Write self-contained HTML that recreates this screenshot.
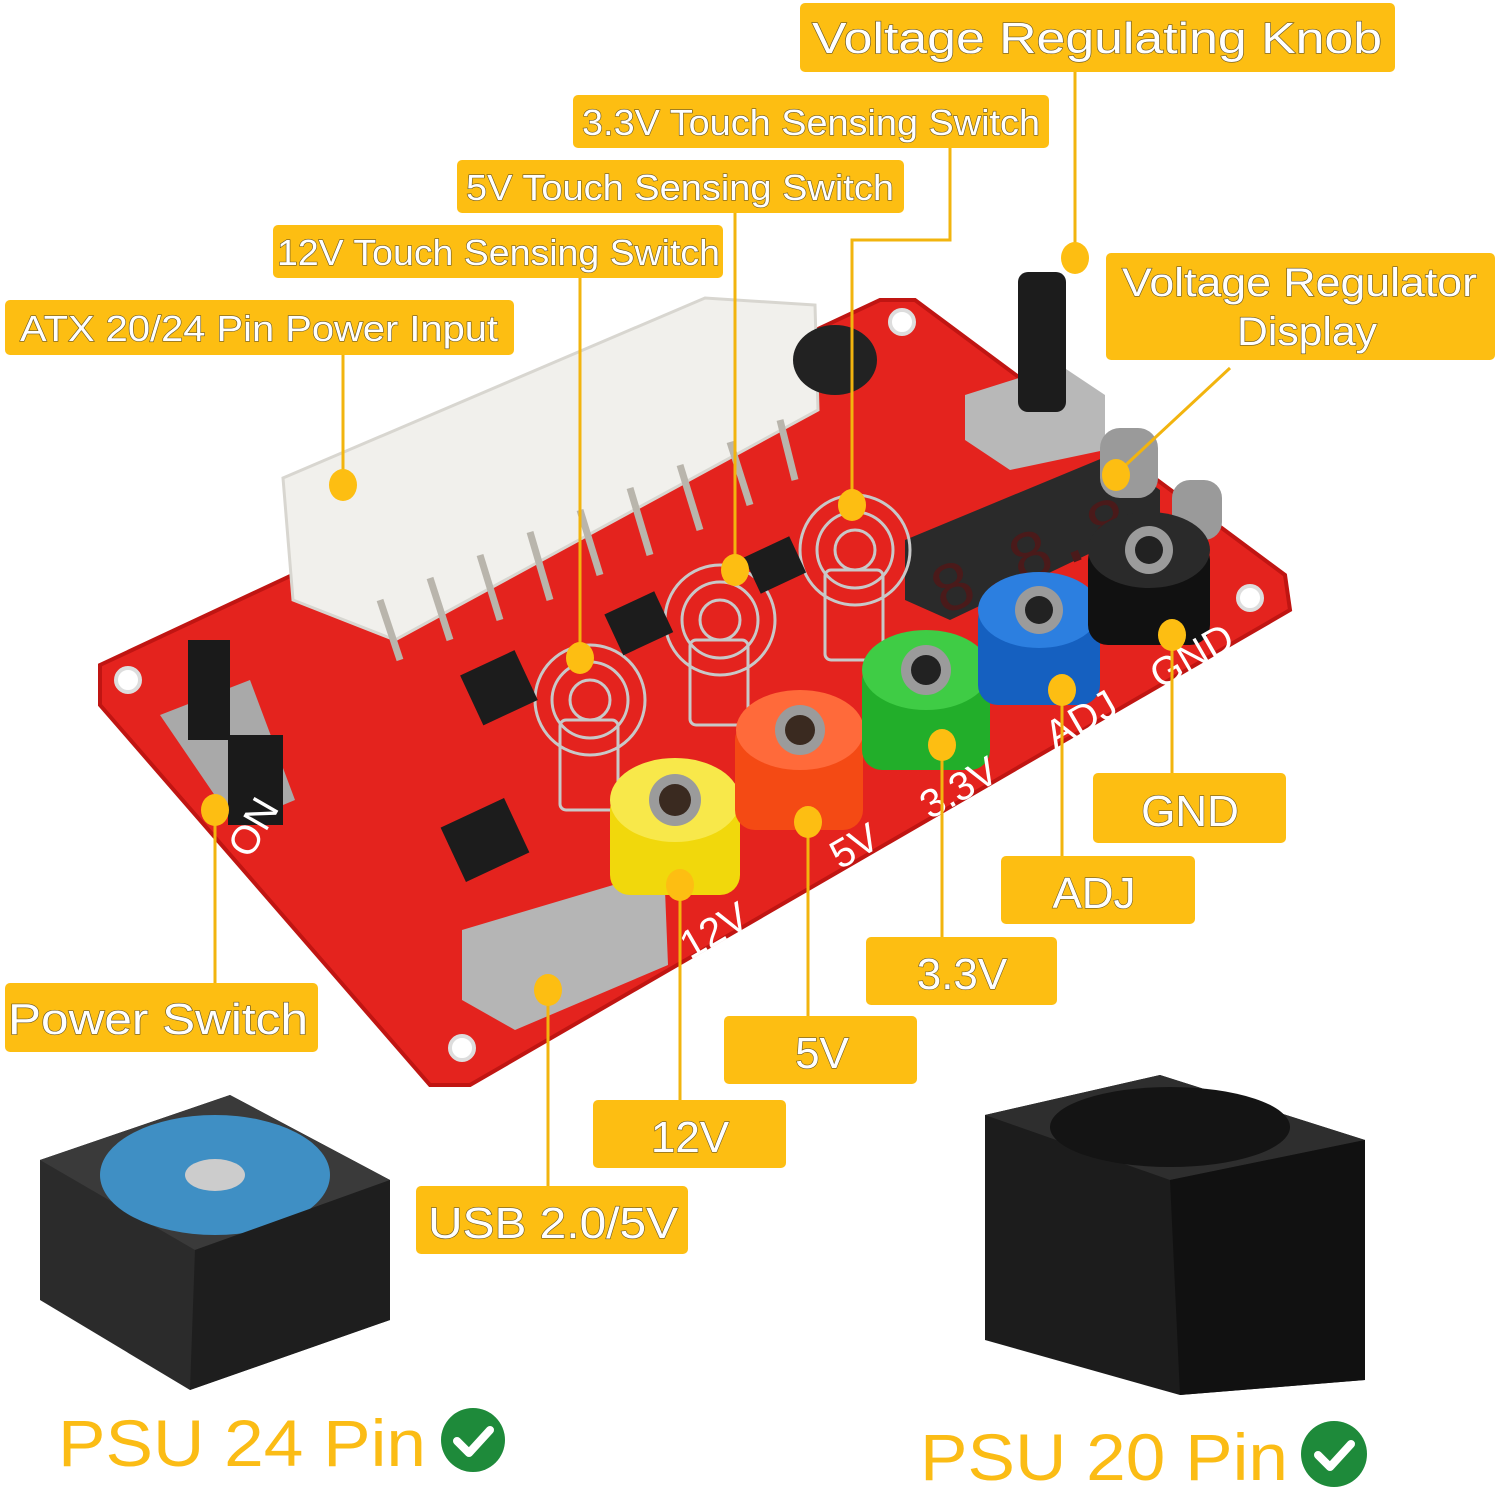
<!DOCTYPE html>
<html><head><meta charset="utf-8"><style>
html,body{margin:0;padding:0;background:#fff;}
svg{display:block}
.lb{fill:#FDBE12}
.t{font-family:"Liberation Sans",sans-serif;fill:#fff;stroke:#6b5a2a;stroke-width:1.2px;paint-order:stroke;}
.ln{stroke:#F2B40E;stroke-width:3;fill:none}
.dot{fill:#FDBE12}
</style></head><body>
<svg width="1500" height="1496" viewBox="0 0 1500 1496" xmlns="http://www.w3.org/2000/svg">
<!-- PCB -->
<polygon points="100,665 880,300 915,300 1285,575 1290,610 470,1085 430,1085 100,705" fill="#E4231E"/>
<polygon points="100,665 880,300 915,300 1285,575 1290,610 470,1085 430,1085 100,705" fill="none" stroke="#c01512" stroke-width="4"/>
<!-- ATX connector -->
<polygon points="283,478 705,298 815,305 818,410 395,640 293,600" fill="#F1F0EC"/>
<polygon points="283,478 705,298 815,305 818,410 395,640 293,600" fill="none" stroke="#d8d6d0" stroke-width="3"/>
<g stroke="#b9b5ac" stroke-width="7">
<line x1="380" y1="600" x2="400" y2="660"/><line x1="430" y1="578" x2="450" y2="640"/><line x1="480" y1="555" x2="500" y2="620"/><line x1="530" y1="532" x2="550" y2="600"/><line x1="580" y1="510" x2="600" y2="575"/><line x1="630" y1="488" x2="650" y2="555"/><line x1="680" y1="465" x2="700" y2="530"/><line x1="730" y1="442" x2="750" y2="505"/><line x1="780" y1="420" x2="795" y2="480"/>
</g>
<!-- inductor -->
<ellipse cx="835" cy="360" rx="42" ry="35" fill="#222"/>
<!-- potentiometer & knob -->
<polygon points="965,395 1060,365 1105,395 1105,450 1010,470 965,440" fill="#b8b8b8"/>
<rect x="1018" y="272" width="48" height="140" rx="10" fill="#1c1c1c"/>
<!-- display -->
<polygon points="905,540 1110,455 1160,490 1160,520 950,620 905,600" fill="#2a2a2a"/>
<text x="925" y="590" font-family="Liberation Mono" font-size="70" fill="#4a1a1a" transform="rotate(-22 1000 560)">8.8.8</text>
<!-- capacitors -->
<rect x="1100" y="428" width="58" height="70" rx="20" fill="#9a9a9a"/>
<rect x="1172" y="480" width="50" height="60" rx="18" fill="#9a9a9a"/>
<!-- springs -->
<g fill="none" stroke="#c8c8c8" stroke-width="3">
<circle cx="590" cy="700" r="55"/><circle cx="590" cy="700" r="38"/><circle cx="590" cy="700" r="20"/>
<rect x="560" y="720" width="58" height="90" rx="6"/>
<circle cx="720" cy="620" r="55"/><circle cx="720" cy="620" r="38"/><circle cx="720" cy="620" r="20"/>
<rect x="690" y="640" width="58" height="85" rx="6"/>
<circle cx="855" cy="550" r="55"/><circle cx="855" cy="550" r="38"/><circle cx="855" cy="550" r="20"/>
<rect x="825" y="570" width="58" height="90" rx="6"/>
</g>
<!-- chips -->
<rect x="470" y="660" width="60" height="55" fill="#1c1c1c" transform="rotate(-25 500 690)"/>
<rect x="450" y="810" width="70" height="60" fill="#1c1c1c" transform="rotate(-25 485 840)"/>
<rect x="610" y="600" width="55" height="45" fill="#1c1c1c" transform="rotate(-25 640 620)"/>
<rect x="750" y="545" width="50" height="40" fill="#1c1c1c" transform="rotate(-25 775 565)"/>
<!-- power switch -->
<polygon points="160,715 250,680 295,800 235,825" fill="#a9a9a9"/>
<rect x="188" y="640" width="42" height="100" fill="#1a1a1a"/>
<rect x="228" y="735" width="55" height="90" fill="#1a1a1a"/>
<!-- USB -->
<polygon points="462,930 630,880 665,890 668,965 515,1030 462,1000" fill="#b5b5b5"/>
<!-- jacks -->
<rect x="610" y="790" width="130" height="105" rx="20" fill="#F1D80C"/><ellipse cx="675" cy="800" rx="65" ry="42" fill="#F8E84A"/><circle cx="675" cy="800" r="26" fill="#9b9b9b"/><circle cx="675" cy="800" r="16" fill="#3a2a20"/>
<rect x="735" y="720" width="128" height="110" rx="20" fill="#F44A14"/><ellipse cx="800" cy="730" rx="64" ry="40" fill="#ff6a3a"/><circle cx="800" cy="730" r="25" fill="#9b9b9b"/><circle cx="800" cy="730" r="15" fill="#3a2a20"/>
<rect x="862" y="660" width="128" height="110" rx="20" fill="#22AE2A"/><ellipse cx="926" cy="670" rx="64" ry="40" fill="#3fcc45"/><circle cx="926" cy="670" r="25" fill="#9b9b9b"/><circle cx="926" cy="670" r="15" fill="#222"/>
<rect x="978" y="600" width="122" height="105" rx="20" fill="#1560C0"/><ellipse cx="1039" cy="610" rx="61" ry="38" fill="#2c7fe0"/><circle cx="1039" cy="610" r="24" fill="#9b9b9b"/><circle cx="1039" cy="610" r="14" fill="#222"/>
<rect x="1088" y="540" width="122" height="105" rx="20" fill="#111"/><ellipse cx="1149" cy="550" rx="61" ry="38" fill="#2a2a2a"/><circle cx="1149" cy="550" r="24" fill="#9b9b9b"/><circle cx="1149" cy="550" r="14" fill="#222"/>
<!-- board labels -->
<g font-family="Liberation Sans" font-size="40" fill="#fff">
<text x="690" y="960" transform="rotate(-30 690 960)">12V</text>
<text x="840" y="870" transform="rotate(-30 840 870)">5V</text>
<text x="930" y="820" transform="rotate(-30 930 820)">3.3V</text>
<text x="1055" y="750" transform="rotate(-30 1055 750)">ADJ</text>
<text x="1160" y="690" transform="rotate(-30 1160 690)">GND</text>
<text x="250" y="860" transform="rotate(-60 250 860)">ON</text>
</g>
<!-- mounting holes -->
<g fill="#fff" stroke="#ddd" stroke-width="4"><circle cx="128" cy="680" r="12"/><circle cx="902" cy="322" r="12"/><circle cx="1250" cy="598" r="12"/><circle cx="462" cy="1048" r="12"/></g>

<!-- PSU 24 left -->
<polygon points="40,1160 230,1095 390,1180 390,1320 190,1390 40,1300" fill="#2b2b2b"/>
<polygon points="40,1160 230,1095 390,1180 195,1250" fill="#3a3a3a"/>
<ellipse cx="215" cy="1175" rx="115" ry="60" fill="#3f8fc4"/>
<ellipse cx="215" cy="1175" rx="30" ry="16" fill="#ccc"/>
<polygon points="195,1250 390,1180 390,1320 190,1390" fill="#1e1e1e"/>
<!-- PSU 20 right -->
<polygon points="985,1115 1160,1075 1365,1140 1365,1380 1180,1395 985,1340" fill="#1c1c1c"/>
<polygon points="985,1115 1160,1075 1365,1140 1170,1180" fill="#2e2e2e"/>
<ellipse cx="1170" cy="1127" rx="120" ry="40" fill="#141414"/>
<polygon points="1170,1180 1365,1140 1365,1380 1180,1395" fill="#111"/>

<!-- connector lines -->
<g class="ln">
<line x1="1075" y1="72" x2="1075" y2="260"/>
<polyline points="950,148 950,240 852,240 852,505"/>
<line x1="735" y1="212" x2="735" y2="570"/>
<line x1="580" y1="278" x2="580" y2="658"/>
<line x1="343" y1="355" x2="343" y2="485"/>
<line x1="1230" y1="368" x2="1115" y2="475"/>
<line x1="1172" y1="635" x2="1172" y2="773"/>
<line x1="1062" y1="690" x2="1062" y2="856"/>
<line x1="942" y1="745" x2="942" y2="937"/>
<line x1="808" y1="822" x2="808" y2="1016"/>
<line x1="680" y1="885" x2="680" y2="1100"/>
<line x1="548" y1="990" x2="548" y2="1186"/>
<line x1="215" y1="810" x2="215" y2="983"/>
</g>
<g class="dot">
<ellipse cx="1075" cy="258" rx="14" ry="16"/>
<ellipse cx="852" cy="505" rx="14" ry="16"/>
<ellipse cx="735" cy="570" rx="14" ry="16"/>
<ellipse cx="580" cy="658" rx="14" ry="16"/>
<ellipse cx="343" cy="485" rx="14" ry="16"/>
<ellipse cx="1116" cy="475" rx="14" ry="16"/>
<ellipse cx="1172" cy="635" rx="14" ry="16"/>
<ellipse cx="1062" cy="690" rx="14" ry="16"/>
<ellipse cx="942" cy="745" rx="14" ry="16"/>
<ellipse cx="808" cy="822" rx="14" ry="16"/>
<ellipse cx="680" cy="885" rx="14" ry="16"/>
<ellipse cx="548" cy="990" rx="14" ry="16"/>
<ellipse cx="215" cy="810" rx="14" ry="16"/>
</g>

<!-- labels -->
<rect class="lb" x="800" y="3" width="595" height="69" rx="5"/>
<text class="t" x="812" y="53" font-size="44" textLength="570" lengthAdjust="spacingAndGlyphs">Voltage Regulating Knob</text>
<rect class="lb" x="573" y="95" width="476" height="53" rx="5"/>
<text class="t" x="582" y="135" font-size="36" textLength="458" lengthAdjust="spacingAndGlyphs">3.3V Touch Sensing Switch</text>
<rect class="lb" x="457" y="160" width="447" height="53" rx="5"/>
<text class="t" x="466" y="200" font-size="36" textLength="428" lengthAdjust="spacingAndGlyphs">5V Touch Sensing Switch</text>
<rect class="lb" x="273" y="225" width="450" height="53" rx="5"/>
<text class="t" x="277" y="265" font-size="36" textLength="443" lengthAdjust="spacingAndGlyphs">12V Touch Sensing Switch</text>
<rect class="lb" x="5" y="300" width="509" height="55" rx="5"/>
<text class="t" x="20" y="341" font-size="36" textLength="478" lengthAdjust="spacingAndGlyphs">ATX 20/24 Pin Power Input</text>
<rect class="lb" x="1106" y="253" width="389" height="107" rx="5"/>
<text class="t" x="1122" y="296" font-size="40" textLength="355" lengthAdjust="spacingAndGlyphs">Voltage Regulator</text>
<text class="t" x="1237" y="345" font-size="40" textLength="140" lengthAdjust="spacingAndGlyphs">Display</text>
<rect class="lb" x="1093" y="773" width="193" height="70" rx="5"/>
<text class="t" x="1190" y="826" font-size="44" text-anchor="middle">GND</text>
<rect class="lb" x="1001" y="856" width="194" height="68" rx="5"/>
<text class="t" x="1094" y="908" font-size="44" text-anchor="middle">ADJ</text>
<rect class="lb" x="866" y="937" width="191" height="68" rx="5"/>
<text class="t" x="962" y="989" font-size="44" text-anchor="middle">3.3V</text>
<rect class="lb" x="724" y="1016" width="193" height="68" rx="5"/>
<text class="t" x="822" y="1068" font-size="44" text-anchor="middle">5V</text>
<rect class="lb" x="593" y="1100" width="193" height="68" rx="5"/>
<text class="t" x="690" y="1152" font-size="44" text-anchor="middle">12V</text>
<rect class="lb" x="416" y="1186" width="272" height="68" rx="5"/>
<text class="t" x="428" y="1238" font-size="44" textLength="250" lengthAdjust="spacingAndGlyphs">USB 2.0/5V</text>
<rect class="lb" x="5" y="983" width="313" height="69" rx="5"/>
<text class="t" x="8" y="1034" font-size="44" textLength="300" lengthAdjust="spacingAndGlyphs">Power Switch</text>

<!-- bottom captions -->
<text x="58" y="1466" font-family="Liberation Sans" font-size="66" fill="#FBBC15" textLength="368" lengthAdjust="spacingAndGlyphs">PSU 24 Pin</text>
<circle cx="473" cy="1440" r="32" fill="#1E8A3A"/>
<polyline points="457,1441 469,1453 490,1430" fill="none" stroke="#fff" stroke-width="8" stroke-linecap="round" stroke-linejoin="round"/>
<text x="920" y="1480" font-family="Liberation Sans" font-size="66" fill="#FBBC15" textLength="368" lengthAdjust="spacingAndGlyphs">PSU 20 Pin</text>
<circle cx="1334" cy="1454" r="33" fill="#1E8A3A"/>
<polyline points="1318,1455 1330,1467 1351,1444" fill="none" stroke="#fff" stroke-width="8" stroke-linecap="round" stroke-linejoin="round"/>
</svg>
</body></html>
